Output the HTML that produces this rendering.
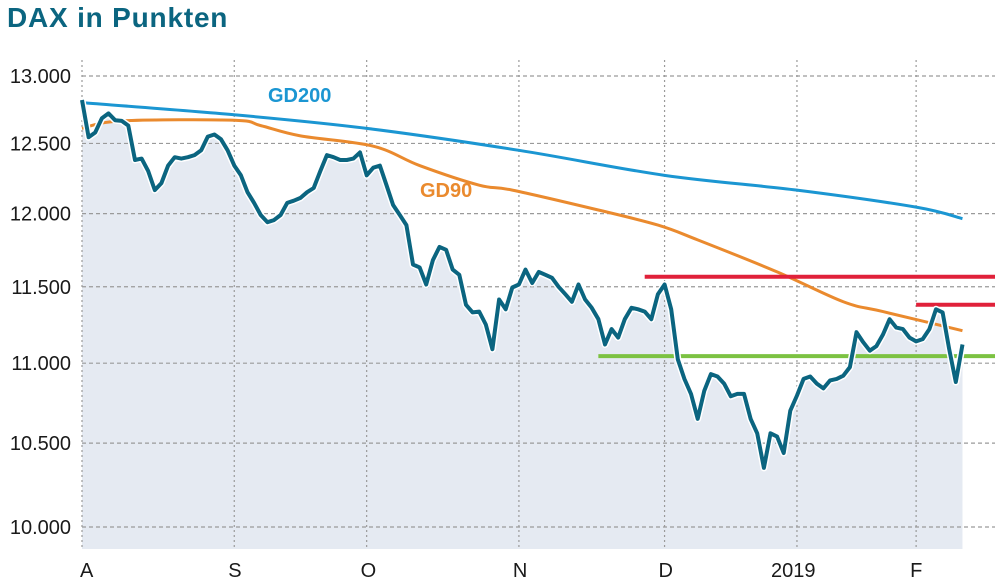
<!DOCTYPE html>
<html><head><meta charset="utf-8"><style>
html,body{margin:0;padding:0;background:#fff;}
body{width:1000px;height:580px;overflow:hidden;font-family:"Liberation Sans","DejaVu Sans",sans-serif;}
</style></head><body>
<svg id="chart" width="1000" height="580" viewBox="0 0 1000 580" xmlns="http://www.w3.org/2000/svg">
<text x="7" y="27" font-family="Liberation Sans, sans-serif" font-weight="bold" font-size="28" letter-spacing="0.8" fill="#0b6580">DAX in Punkten</text>
<g id="grid"></g><g id="marks"></g><g id="labels"></g>
</svg>
<script>
const closeValues=[12820,12545,12580,12685,12720,12670,12665,12630,12380,12390,12300,12165,12215,12340,12400,12390,12400,12415,12450,12550,12565,12530,12450,12340,12270,12150,12075,11990,11940,11955,11990,12075,12090,12110,12150,12180,12300,12415,12400,12380,12380,12390,12435,12270,12325,12340,12200,12060,11990,11920,11650,11630,11515,11680,11770,11750,11615,11580,11380,11330,11335,11250,11090,11415,11350,11495,11515,11615,11525,11600,11580,11560,11500,11450,11400,11515,11415,11360,11285,11120,11220,11165,11285,11360,11350,11335,11285,11450,11515,11350,11025,10900,10805,10650,10825,10930,10915,10870,10790,10805,10805,10650,10560,10350,10560,10540,10440,10700,10795,10900,10915,10870,10840,10890,10900,10920,10975,11200,11135,11080,11110,11185,11285,11230,11220,11165,11140,11155,11220,11350,11330,11090,10880,11120];
const gd200Days=[0,23,43,66,88,108,126,133];
const gd200Values=[12800,12710,12610,12450,12270,12165,12045,11965];
const gd90Days=[0,6,23,27,33,44,51,60,65,78,87,93,105,115,121,133];
const gd90Values=[12610,12665,12670,12630,12555,12480,12340,12200,12165,12025,11920,11818,11600,11400,11335,11210];
const yTicks=[13000,12500,12000,11500,11000,10500,10000];
const yTickLabels=["13.000","12.500","12.000","11.500","11.000","10.500","10.000"];
const monthDays=[0,23,43,66,88,108,126];
const monthLabels=["A","S","O","N","D","2019","F"];
const resistanceLines=[{start:85,value:11567},{start:126,value:11380}];
const supportLines=[{start:78,value:11045}];

const NS="http://www.w3.org/2000/svg";
const x=i=>82+i*6.62;
const y=v=>76+1719*Math.log(13000/v);
const bottom=549,right=995;
function mk(tag,attrs,parent){const e=document.createElementNS(NS,tag);for(const k in attrs)e.setAttribute(k,attrs[k]);parent.appendChild(e);return e;}
const grid=document.getElementById('grid'),marks=document.getElementById('marks'),labels=document.getElementById('labels');

let d='M'+x(0)+','+bottom;
closeValues.forEach((v,i)=>{d+=' L'+x(i).toFixed(1)+','+y(v).toFixed(1);});
d+=' L'+x(closeValues.length-1)+','+bottom+' Z';
const area=mk('path',{d:d,fill:'#e5eaf2'},grid);



yTicks.forEach((t,k)=>{
  const l=mk('line',{x1:82,x2:right,y1:y(t),y2:y(t),stroke:'#9a9a9a','stroke-width':1.2,'stroke-dasharray':'4 3'},grid);
  
  
  const tx=mk('text',{x:71,y:y(t)+7,'text-anchor':'end','font-size':20,fill:'#1a1a1a'},labels);
  tx.textContent=yTickLabels[k];
  
  
});
monthDays.forEach((m,k)=>{
  const l=mk('line',{x1:x(m),x2:x(m),y1:60,y2:bottom,stroke:'#9a9a9a','stroke-width':1.2,'stroke-dasharray':'2 3'},grid);
  
  
  const lab=monthLabels[k];
  const tx=mk('text',{x:lab==='2019'?x(m)-26:(k===0?x(m)-2:x(m)-6),y:577,'font-size':20,fill:'#1a1a1a'},labels);
  tx.textContent=lab;
  
  
});

function smooth(days,vals){
  const p=days.map((dd,i)=>[x(dd),y(vals[i])]);
  let s='M'+p[0][0]+','+p[0][1];
  for(let i=0;i<p.length-1;i++){
    const p0=p[i-1]||p[i],p1=p[i],p2=p[i+1],p3=p[i+2]||p2;
    const c1=[p1[0]+(p2[0]-p0[0])/6,p1[1]+(p2[1]-p0[1])/6],c2=[p2[0]-(p3[0]-p1[0])/6,p2[1]-(p3[1]-p1[1])/6];
    s+=' C'+c1.join(',')+' '+c2.join(',')+' '+p2.join(',');
  }
  return s;
}
const g200=mk('path',{d:smooth(gd200Days,gd200Values),fill:'none',stroke:'#1b96d2','stroke-width':3},marks);


const g90=mk('path',{d:smooth(gd90Days,gd90Values),fill:'none',stroke:'#ea8a2e','stroke-width':3},marks);



resistanceLines.forEach(r=>{
  const l=mk('line',{x1:x(r.start),x2:right,y1:y(r.value),y2:y(r.value),stroke:'#e0213a','stroke-width':4},marks);
  
  
});
supportLines.forEach(r=>{
  const l=mk('line',{x1:x(r.start),x2:right,y1:y(r.value),y2:y(r.value),stroke:'#7cc242','stroke-width':4},marks);
  
  
});

let ld='';
closeValues.forEach((v,i)=>{ld+=(i?' L':'M')+x(i).toFixed(1)+','+y(v).toFixed(1);});
const halo=mk('path',{d:ld,fill:'none',stroke:'#fff','stroke-width':7,'stroke-linejoin':'round'},marks);


const line=mk('path',{d:ld,fill:'none',stroke:'#0b6580','stroke-width':4,'stroke-linejoin':'round'},marks);



const t1=mk('text',{x:268,y:102,'font-size':20,'font-weight':'bold',fill:'#1b96d2'},labels);
t1.textContent='GD200';


const t2=mk('text',{x:420,y:197,'font-size':20,'font-weight':'bold',fill:'#ea8a2e'},labels);
t2.textContent='GD90';


</script>
</body></html>
